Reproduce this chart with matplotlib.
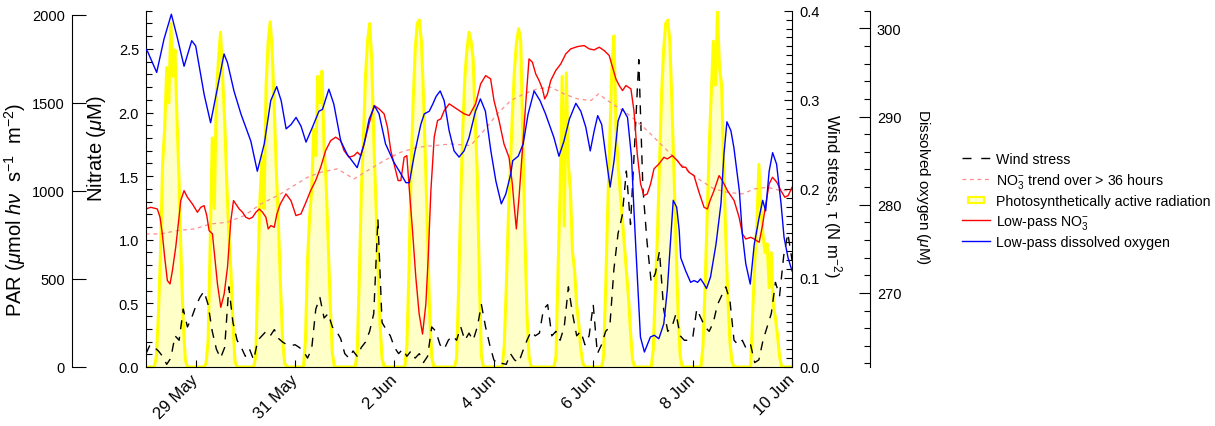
import matplotlib
matplotlib.use("Agg")
import matplotlib.pyplot as plt
from matplotlib.lines import Line2D
from matplotlib.path import Path
from matplotlib.ticker import MultipleLocator, FormatStrFormatter
import numpy as np

plt.rcParams['font.family'] = ['Liberation Sans', 'DejaVu Sans']
plt.rcParams['mathtext.fontset'] = 'custom'
plt.rcParams['mathtext.rm'] = 'Liberation Sans'
plt.rcParams['mathtext.it'] = 'Liberation Sans:italic'

# time is in days since 28 May 00:00
date_ticks = [1, 3, 5, 7, 9, 11, 13]
date_labels = ['29 May', '31 May', '2 Jun', '4 Jun', '6 Jun', '8 Jun', '10 Jun']

# hourly PAR, one row per day (28 May ... 9 Jun)
par_days = [
    [0, 0, 0, 0, 0, 60, 300, 650, 1150, 1350, 1700, 1500, 1950, 1650, 1800, 1400, 1050, 600, 250, 40, 0, 0, 0, 0],
    [0, 0, 0, 0, 0, 20, 150, 700, 1300, 900, 1550, 1750, 1900, 1650, 1400, 1050, 750, 550, 250, 30, 0, 0, 0, 0],
    [0, 0, 0, 0, 0, 60, 500, 950, 1200, 900, 1600, 1850, 1960, 1780, 1450, 1100, 800, 450, 150, 20, 0, 0, 0, 0],
    [0, 0, 0, 0, 0, 150, 600, 850, 1000, 1350, 1200, 1650, 1500, 1680, 1250, 1050, 700, 350, 80, 0, 0, 0, 0, 0],
    [0, 0, 0, 0, 0, 0, 80, 500, 1000, 1300, 1650, 1850, 1950, 1750, 1300, 950, 600, 250, 50, 0, 0, 0, 0, 0],
    [0, 0, 0, 0, 0, 0, 120, 550, 1100, 1500, 1800, 1950, 1970, 1850, 1550, 1150, 750, 300, 60, 0, 0, 0, 0, 0],
    [0, 0, 0, 0, 0, 0, 50, 450, 950, 1350, 1650, 1800, 1900, 1850, 1750, 1400, 1100, 500, 60, 0, 0, 0, 0, 0],
    [0, 0, 0, 0, 0, 120, 450, 850, 1150, 1450, 1700, 1850, 1920, 1850, 1300, 750, 300, 60, 0, 0, 0, 0, 0, 0],
    [0, 0, 0, 0, 0, 0, 60, 550, 1000, 1650, 800, 1670, 1150, 1000, 650, 550, 350, 250, 100, 20, 0, 0, 0, 0],
    [0, 0, 0, 0, 0, 60, 450, 900, 1300, 1700, 1880, 1350, 1150, 1000, 850, 700, 550, 400, 200, 40, 0, 0, 0, 0],
    [0, 0, 0, 0, 0, 100, 450, 750, 1150, 1550, 1800, 1950, 1970, 1850, 1500, 1100, 700, 300, 60, 0, 0, 0, 0, 0],
    [0, 0, 0, 0, 0, 120, 450, 850, 1250, 1550, 1850, 1600, 2020, 1700, 1600, 1150, 750, 400, 150, 30, 0, 0, 0, 0],
    [0, 0, 0, 0, 0, 300, 600, 800, 1150, 900, 750, 650, 700, 450, 650, 350, 280, 180, 60, 0, 0, 0, 0, 0],
]

# wind stress every 2 hours (N m-2)
wind = [
    0.015, 0.025, 0.022, 0.018, 0.012, 0.003, 0.010, 0.035, 0.030, 0.065,
    0.045, 0.055, 0.068, 0.078, 0.085, 0.070, 0.040, 0.020, 0.010, 0.022,
    0.090, 0.050, 0.030, 0.022, 0.012, 0.020, 0.008, 0.030, 0.035, 0.040,
    0.035, 0.042, 0.032, 0.028, 0.025, 0.024, 0.025, 0.022, 0.018, 0.010,
    0.020, 0.065, 0.078, 0.055, 0.060, 0.045, 0.040, 0.032, 0.015, 0.010,
    0.018, 0.012, 0.022, 0.028, 0.040, 0.060, 0.166, 0.050, 0.042, 0.035,
    0.022, 0.015, 0.020, 0.012, 0.018, 0.010, 0.015, 0.005, 0.012, 0.045,
    0.040, 0.025, 0.020, 0.030, 0.035, 0.030, 0.045, 0.030, 0.038, 0.030,
    0.045, 0.070, 0.045, 0.025, 0.008, 0.003, 0.004, 0.003, 0.015, 0.008,
    0.005, 0.018, 0.030, 0.040, 0.035, 0.038, 0.065, 0.070, 0.035, 0.040,
    0.030, 0.045, 0.090, 0.060, 0.035, 0.040, 0.025, 0.035, 0.070, 0.015,
    0.025, 0.040, 0.045, 0.110, 0.150, 0.170, 0.220, 0.160, 0.250, 0.345,
    0.200, 0.140, 0.095, 0.105, 0.130, 0.065, 0.040, 0.045, 0.060, 0.035,
    0.030, 0.030, 0.032, 0.065, 0.055, 0.045, 0.040, 0.050, 0.070, 0.080,
    0.090, 0.075, 0.030, 0.025, 0.030, 0.020, 0.025, 0.005, 0.008, 0.030,
    0.045, 0.060, 0.095, 0.080, 0.125, 0.150, 0.120,
]

# low-pass nitrate (uM): (day, value)
no3_pts = [
    (0.0, 1.242), (0.094, 1.255), (0.228, 1.242), (0.282, 1.177), (0.329, 1.046),
    (0.376, 0.862), (0.430, 0.679), (0.484, 0.653), (0.531, 0.757), (0.598, 0.941),
    (0.665, 1.177), (0.699, 1.308), (0.766, 1.386), (0.833, 1.334), (0.934, 1.281),
    (1.035, 1.216), (1.102, 1.255), (1.169, 1.268), (1.223, 1.190), (1.270, 1.072),
    (1.337, 1.046), (1.384, 0.862), (1.438, 0.653), (1.505, 0.469), (1.573, 0.574),
    (1.640, 0.784), (1.707, 1.150), (1.761, 1.308), (1.808, 1.281), (1.875, 1.242),
    (1.942, 1.216), (2.009, 1.177), (2.077, 1.164), (2.144, 1.177), (2.211, 1.216),
    (2.278, 1.242), (2.345, 1.216), (2.413, 1.177), (2.460, 1.085), (2.513, 1.111),
    (2.581, 1.098), (2.634, 1.203), (2.702, 1.281), (2.816, 1.360), (2.917, 1.308),
    (3.017, 1.190), (3.118, 1.203), (3.219, 1.295), (3.313, 1.386), (3.414, 1.465),
    (3.515, 1.570), (3.616, 1.701), (3.716, 1.779), (3.817, 1.806), (3.918, 1.779),
    (3.985, 1.701), (4.086, 1.648), (4.187, 1.661), (4.254, 1.688), (4.321, 1.661),
    (4.388, 1.753), (4.489, 1.910), (4.590, 2.055), (4.691, 2.028), (4.792, 1.989),
    (4.859, 1.884), (4.926, 1.701), (5.007, 1.570), (5.074, 1.465), (5.128, 1.465),
    (5.195, 1.648), (5.249, 1.661), (5.296, 1.412), (5.363, 1.072), (5.430, 0.705),
    (5.497, 0.417), (5.565, 0.259), (5.632, 0.495), (5.679, 0.862), (5.733, 1.386),
    (5.800, 1.806), (5.867, 1.937), (5.934, 1.950), (6.001, 2.015), (6.102, 2.068),
    (6.203, 2.041), (6.304, 2.015), (6.405, 1.989), (6.505, 1.976), (6.633, 2.068),
    (6.734, 2.225), (6.835, 2.290), (6.935, 2.264), (7.003, 2.094), (7.104, 1.937),
    (7.204, 1.753), (7.305, 1.648), (7.372, 1.439), (7.406, 1.281), (7.453, 1.085),
    (7.507, 1.334), (7.574, 1.701), (7.641, 2.068), (7.708, 2.421), (7.776, 2.395),
    (7.843, 2.303), (7.910, 2.251), (7.977, 2.186), (8.024, 2.107), (8.078, 2.146),
    (8.145, 2.251), (8.246, 2.330), (8.347, 2.382), (8.448, 2.461), (8.548, 2.500),
    (8.683, 2.518), (8.817, 2.526), (8.918, 2.500), (9.019, 2.492), (9.120, 2.513),
    (9.220, 2.487), (9.321, 2.448), (9.388, 2.356), (9.456, 2.264), (9.523, 2.212),
    (9.590, 2.172), (9.657, 2.212), (9.758, 2.186), (9.819, 2.015), (9.886, 1.675),
    (9.953, 1.439), (10.020, 1.347), (10.087, 1.360), (10.155, 1.439), (10.222, 1.557),
    (10.323, 1.596), (10.423, 1.648), (10.491, 1.635), (10.591, 1.661), (10.692, 1.622),
    (10.793, 1.570), (10.860, 1.570), (10.927, 1.530), (11.028, 1.504), (11.129, 1.373),
    (11.230, 1.255), (11.297, 1.242), (11.351, 1.308), (11.431, 1.386), (11.532, 1.504),
    (11.599, 1.465), (11.700, 1.386), (11.835, 1.308), (11.935, 1.177), (12.003, 1.046),
    (12.070, 1.006), (12.171, 1.019), (12.238, 1.006), (12.339, 0.980), (12.406, 1.111),
    (12.473, 1.281), (12.540, 1.439), (12.608, 1.491), (12.695, 1.452), (12.776, 1.386),
    (12.856, 1.334), (12.923, 1.347), (13.0, 1.412),
]

# nitrate trend over > 36 h (uM)
trend_pts = [
    (0.0, 1.046), (0.30, 1.046), (0.63, 1.072), (0.97, 1.085), (1.30, 1.124),
    (1.64, 1.138), (1.98, 1.190), (2.31, 1.281), (2.65, 1.347), (2.98, 1.426),
    (3.25, 1.491), (3.515, 1.530), (3.851, 1.557), (4.187, 1.478), (4.456, 1.543),
    (4.792, 1.622), (5.128, 1.688), (5.464, 1.727), (5.800, 1.740), (6.136, 1.753),
    (6.532, 1.740), (6.801, 1.858), (7.070, 1.989), (7.339, 2.094), (7.608, 2.146),
    (7.876, 2.186), (8.145, 2.199), (8.414, 2.146), (8.683, 2.107), (8.952, 2.094),
    (9.106, 2.146), (9.288, 2.094), (9.489, 2.041), (9.691, 1.989), (9.859, 1.937),
    (10.087, 1.858), (10.356, 1.753), (10.625, 1.648), (10.894, 1.543), (11.163, 1.465),
    (11.431, 1.399), (11.700, 1.373), (12.003, 1.360), (12.238, 1.399), (12.507, 1.412),
    (12.776, 1.386), (13.0, 1.386),
]

# low-pass dissolved oxygen (uM)
o2_pts = [
    (0.0, 297.6), (0.03, 297.4), (0.215, 295.0), (0.363, 298.8), (0.51, 301.6),
    (0.632, 298.9), (0.766, 295.7), (0.92, 298.6), (1.0, 298.0), (1.17, 292.5),
    (1.30, 289.3), (1.44, 293.3), (1.57, 297.1), (1.64, 296.1), (1.77, 292.9),
    (1.91, 290.3), (2.11, 287.2), (2.24, 283.8), (2.38, 286.9), (2.51, 291.8),
    (2.63, 293.4), (2.72, 291.8), (2.82, 288.6), (2.92, 289.1), (3.02, 289.9),
    (3.12, 288.9), (3.22, 287.1), (3.35, 288.8), (3.48, 290.6), (3.55, 290.8),
    (3.68, 293.1), (3.78, 291.4), (3.92, 287.2), (4.05, 285.7), (4.25, 284.2),
    (4.39, 286.9), (4.49, 289.7), (4.60, 291.2), (4.69, 290.3), (4.82, 286.9),
    (4.99, 284.8), (5.13, 283.5), (5.23, 282.5), (5.30, 282.5), (5.40, 285.7),
    (5.53, 289.1), (5.60, 290.3), (5.70, 290.6), (5.77, 291.4), (5.84, 292.3),
    (5.92, 292.9), (6.0, 291.8), (6.10, 288.4), (6.20, 286.1), (6.30, 285.4),
    (6.40, 286.1), (6.50, 287.6), (6.63, 290.6), (6.73, 292.0), (6.83, 290.6),
    (6.94, 286.1), (7.04, 282.7), (7.15, 280.1), (7.24, 281.2), (7.34, 283.5),
    (7.38, 285.0), (7.49, 285.5), (7.59, 286.9), (7.69, 290.3), (7.81, 292.9),
    (7.93, 291.8), (8.04, 290.3), (8.21, 287.6), (8.31, 285.5), (8.41, 287.2),
    (8.52, 289.7), (8.65, 291.5), (8.75, 290.6), (8.85, 288.8), (8.94, 286.1),
    (9.02, 288.4), (9.09, 290.1), (9.17, 289.1), (9.25, 285.7), (9.34, 282.0),
    (9.42, 285.0), (9.50, 289.5), (9.59, 290.9), (9.69, 289.9), (9.77, 285.4),
    (9.82, 279.3), (9.86, 274.8), (9.95, 265.0), (10.03, 263.3), (10.15, 265.0),
    (10.23, 265.2), (10.32, 264.8), (10.42, 266.5), (10.49, 270.3), (10.56, 276.3),
    (10.61, 280.5), (10.68, 279.7), (10.73, 277.1), (10.76, 274.0), (10.86, 272.5),
    (10.96, 271.2), (11.03, 271.4), (11.10, 271.2), (11.16, 271.6), (11.23, 271.0),
    (11.28, 270.5), (11.36, 271.8), (11.47, 275.5), (11.57, 280.1), (11.63, 285.7),
    (11.69, 289.4), (11.77, 288.4), (11.83, 286.5), (11.94, 281.6), (12.0, 276.7),
    (12.07, 273.3), (12.16, 271.0), (12.24, 275.5), (12.34, 278.6), (12.41, 280.5),
    (12.47, 279.3), (12.54, 283.8), (12.61, 285.9), (12.69, 284.6), (12.78, 280.1),
    (12.84, 276.3), (12.92, 274.0), (13.0, 272.5),
]

par = np.concatenate([np.array(d, float) for d in par_days] + [np.zeros(1)])
par_t = np.arange(len(par)) / 24.0
wind_t = np.arange(len(wind)) / 12.0
no3_t, no3 = np.array(no3_pts).T
trend_t, trend = np.array(trend_pts).T
o2_t, o2 = np.array(o2_pts).T

yellow = '#ffff00'
yellow_fill = '#ffffc8'
pink = '#ff8c8c'

fig = plt.figure(figsize=(12.15, 4.27), dpi=100)
ax = fig.add_axes([146 / 1215, 59 / 427, 646 / 1215, 356.3 / 427])
ax_par = ax.twinx()
ax_w = ax.twinx()
ax_o = ax.twinx()
for z, a in enumerate([ax_par, ax_w, ax, ax_o]):
    a.set_zorder(z + 1)
    a.patch.set_visible(False)

tick_kw = dict(width=0.8, labelsize=10.5)

# PAR (far left axis)
ax_par.fill_between(par_t, 0, par, color=yellow_fill, lw=0)
ax_par.plot(par_t, par, color=yellow, lw=2.2)
ax_par.set_ylim(0, 2022.7)
ax_par.yaxis.set_ticks_position('left')
ax_par.yaxis.set_label_position('left')
ax_par.spines['left'].set_position(('axes', -0.115))
ax_par.spines['left'].set_bounds(0, 2000)
for s in ['right', 'top', 'bottom']:
    ax_par.spines[s].set_visible(False)
ax_par.set_yticks([0, 500, 1000, 1500, 2000])
ax_par.tick_params(axis='y', direction='in', length=10, pad=5, **tick_kw)
ax_par.set_ylabel(r'PAR ($\mu$mol $h\nu$  s$^{-1}$  m$^{-2}$)', fontsize=14.5)
ax_par.yaxis.set_label_coords(-0.182, 0.443)

# nitrate (main axis)
ax.plot(trend_t, trend, color=pink, lw=0.9, dashes=(3, 3))
ax.plot(no3_t, no3, color='#ff0000', lw=1.0)
ax.set_xlim(0, 13)
ax.set_ylim(0, 2.8)
ax.set_yticks(np.arange(0, 2.51, 0.5))
ax.yaxis.set_minor_locator(MultipleLocator(0.1))
ax.yaxis.set_major_formatter(FormatStrFormatter('%.1f'))
ax.tick_params(axis='y', which='major', direction='in', length=5, pad=5, **tick_kw)
ax.tick_params(axis='y', which='minor', direction='in', length=4, width=0.8)
ax.spines['top'].set_visible(False)
ax.spines['right'].set_visible(False)
ax.set_xticks(date_ticks)
ax.set_xticklabels(date_labels, rotation=45, ha='right', va='center', rotation_mode='anchor')
ax.tick_params(axis='x', direction='in', length=5, pad=7, width=0.8, labelsize=12)
ax.set_ylabel(r'Nitrate ($\mu$M)', fontsize=14.5)
ax.yaxis.set_label_coords(-0.059, 0.616)

# wind stress (right axis)
ax_w.plot(wind_t, wind, color='black', lw=1.0, dashes=(6.5, 5.5))
ax_w.set_ylim(0, 0.4)
ax_w.set_yticks(np.arange(0, 0.41, 0.1))
ax_w.yaxis.set_minor_locator(MultipleLocator(0.01))
ax_w.yaxis.set_major_formatter(FormatStrFormatter('%.1f'))
ax_w.tick_params(axis='y', which='major', direction='in', length=6, pad=5, **tick_kw)
ax_w.tick_params(axis='y', which='minor', direction='in', length=4, width=0.8)
for s in ['left', 'top', 'bottom']:
    ax_w.spines[s].set_visible(False)
ax_w.set_ylabel(u'Wind stress, \u03c4 (N m$^{-2}$)', fontsize=12, rotation=270, va='center')
ax_w.yaxis.set_label_coords(1.062, 0.483)

# dissolved oxygen (outer right axis)
ax_o.plot(o2_t, o2, color='#0000ff', lw=1.0)
ax_o.set_ylim(261.6, 302)
ax_o.spines['right'].set_position(('axes', 1.1207))
for s in ['left', 'top', 'bottom']:
    ax_o.spines[s].set_visible(False)
ax_o.set_yticks([270, 280, 290, 300])
ax_o.yaxis.set_minor_locator(MultipleLocator(2))
ax_o.tick_params(axis='y', which='major', direction='in', length=8, pad=5, **tick_kw)
ax_o.tick_params(axis='y', which='minor', direction='in', length=4, width=0.8)
ax_o.set_ylabel(r'Dissolved oxygen ($\mu$M)', fontsize=11, rotation=270, va='center')
ax_o.yaxis.set_label_coords(1.203, 0.508)

for a in [ax, ax_par, ax_w, ax_o]:
    for s in a.spines.values():
        s.set_linewidth(0.8)

rect = Path([(-1.3, -0.5), (1.3, -0.5), (1.3, 0.5), (-1.3, 0.5), (-1.3, -0.5)],
            [Path.MOVETO, Path.LINETO, Path.LINETO, Path.LINETO, Path.CLOSEPOLY])
handles = [
    Line2D([], [], color='black', lw=1.0, dashes=(6.5, 7)),
    Line2D([], [], color=pink, lw=0.9, dashes=(3, 3)),
    Line2D([], [], ls='none', marker=rect, ms=11, mfc=yellow_fill, mec=yellow, mew=1.5),
    Line2D([], [], color='#ff0000', lw=1.0),
    Line2D([], [], color='#0000ff', lw=1.0),
]
labels = ['Wind stress', r'NO$_3^{-}$ trend over > 36 hours',
          'Photosynthetically active radiation', r'Low-pass NO$_3^{-}$',
          'Low-pass dissolved oxygen']
fig.legend(handles, labels, loc='center left', bbox_to_anchor=(962 / 1215, 0.528),
           frameon=False, fontsize=10.2, handlelength=2.0, handletextpad=0.4,
           labelspacing=0.32, borderpad=0, borderaxespad=0)

fig.savefig('out.png', dpi=100, facecolor='white')
